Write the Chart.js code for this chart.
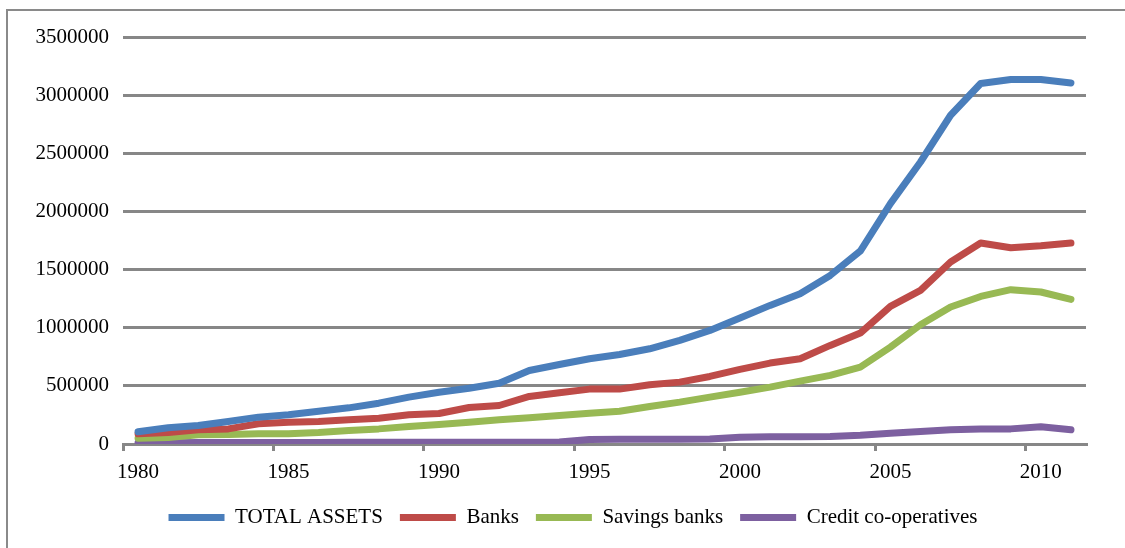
<!DOCTYPE html>
<html>
<head>
<meta charset="utf-8">
<script src="https://cdn.jsdelivr.net/npm/chart.js@4.4.1/dist/chart.umd.min.js"></script>
<style>
  html, body { margin: 0; padding: 0; background: #fff; overflow: hidden; }
  #wrap { position: relative; width: 1125px; height: 548px; }
  #frame { position: absolute; left: 6px; top: 9px; width: 1140px; height: 560px; border: 2px solid #8a8a8a; box-sizing: border-box; pointer-events: none; }
  canvas { position: absolute; left: 0; top: 0; }
</style>
</head>
<body>
<div id="wrap">
  <canvas id="c" width="1125" height="548"></canvas>
  <div id="frame"></div>
</div>
<script>
const years = [1980,1981,1982,1983,1984,1985,1986,1987,1988,1989,1990,1991,1992,1993,1994,1995,1996,1997,1998,1999,2000,2001,2002,2003,2004,2005,2006,2007,2008,2009,2010,2011];
const totalAssets = [105000,139000,159000,194000,231000,251000,282000,311000,351000,403000,445000,480000,523000,632000,684000,733000,770000,819000,891000,977000,1083000,1192000,1293000,1450000,1659000,2067000,2425000,2827000,3100000,3134000,3134000,3105000];
const banks = [88000,99000,122000,130000,174000,188000,194000,208000,222000,251000,262000,314000,331000,409000,441000,472000,472000,509000,532000,581000,642000,696000,733000,848000,954000,1183000,1321000,1565000,1728000,1688000,1705000,1728000];
const savingsBanks = [50000,56000,79000,82000,88000,88000,99000,116000,130000,151000,168000,188000,208000,225000,245000,265000,282000,323000,360000,403000,445000,489000,541000,590000,661000,833000,1025000,1178000,1269000,1327000,1307000,1244000];
const creditCoops = [10000,10000,12000,12000,12000,13000,13000,14000,14000,15000,15000,15000,16000,16000,18000,38000,40000,40000,40000,42000,58000,62000,62000,64000,75000,92000,108000,122000,128000,130000,148000,122000];
const seriesNames = ['TOTAL ASSETS','Banks','Savings banks','Credit co-operatives'];
const yTicks = [0,500000,1000000,1500000,2000000,2500000,3000000,3500000];

const colors = ['#4a7ebb','#be4b48','#98b954','#7d60a0'];
const FONT = '"Liberation Serif", "Times New Roman", serif';
const GRID = '#878787';

function ds(label, data, color) {
  return {
    label, data,
    borderColor: color, backgroundColor: color,
    borderWidth: 7, pointRadius: 0, pointHoverRadius: 0,
    tension: 0, borderCapStyle: 'round', borderJoinStyle: 'round',
    pointStyle: 'line'
  };
}

const legendShift = {
  id: 'legendShift',
  afterLayout(chart) {
    const l = chart.legend;
    if (l) { l.left += 30; l.right += 30; }
  }
};

new Chart(document.getElementById('c'), {
  type: 'line',
  data: {
    labels: years.map(String),
    datasets: [
      ds(seriesNames[0], totalAssets, colors[0]),
      ds(seriesNames[1], banks, colors[1]),
      ds(seriesNames[2], savingsBanks, colors[2]),
      ds(seriesNames[3], creditCoops, colors[3])
    ]
  },
  plugins: [legendShift],
  options: {
    responsive: false,
    animation: false,
    layout: { padding: { left: 0, right: 39, top: 37, bottom: 10 } },
    plugins: {
      tooltip: { enabled: false },
      legend: {
        position: 'bottom',
        labels: {
          usePointStyle: true,
          pointStyle: 'line',
          pointStyleWidth: 56,
          boxHeight: 7,
          padding: 17,
          color: '#000',
          font: { family: FONT, size: 21 }
        }
      }
    },
    scales: {
      x: {
        offset: true,
        afterFit: s => { s.height = 46; },
        grid: {
          offset: true,
          drawOnChartArea: false,
          drawTicks: true,
          tickLength: 7,
          lineWidth: 3,
          color: c => (c.index % 5 === 0 ? GRID : 'rgba(0,0,0,0)')
        },
        border: { display: true, color: GRID, width: 3 },
        ticks: {
          autoSkip: false, maxRotation: 0, minRotation: 0,
          padding: 9,
          color: '#000',
          font: { family: FONT, size: 21 },
          callback: (v, i) => (i % 5 === 0 ? years[i] : '')
        }
      },
      y: {
        min: 0, max: 3500000,
        afterFit: s => { s.width = 123; },
        afterBuildTicks: s => { s.ticks = yTicks.map(v => ({ value: v })); },
        grid: { color: GRID, lineWidth: 3, drawTicks: false },
        border: { display: false },
        ticks: {
          padding: 14,
          color: '#000',
          font: { family: FONT, size: 21 },
          callback: v => String(v)
        }
      }
    }
  }
});
</script>
</body>
</html>
